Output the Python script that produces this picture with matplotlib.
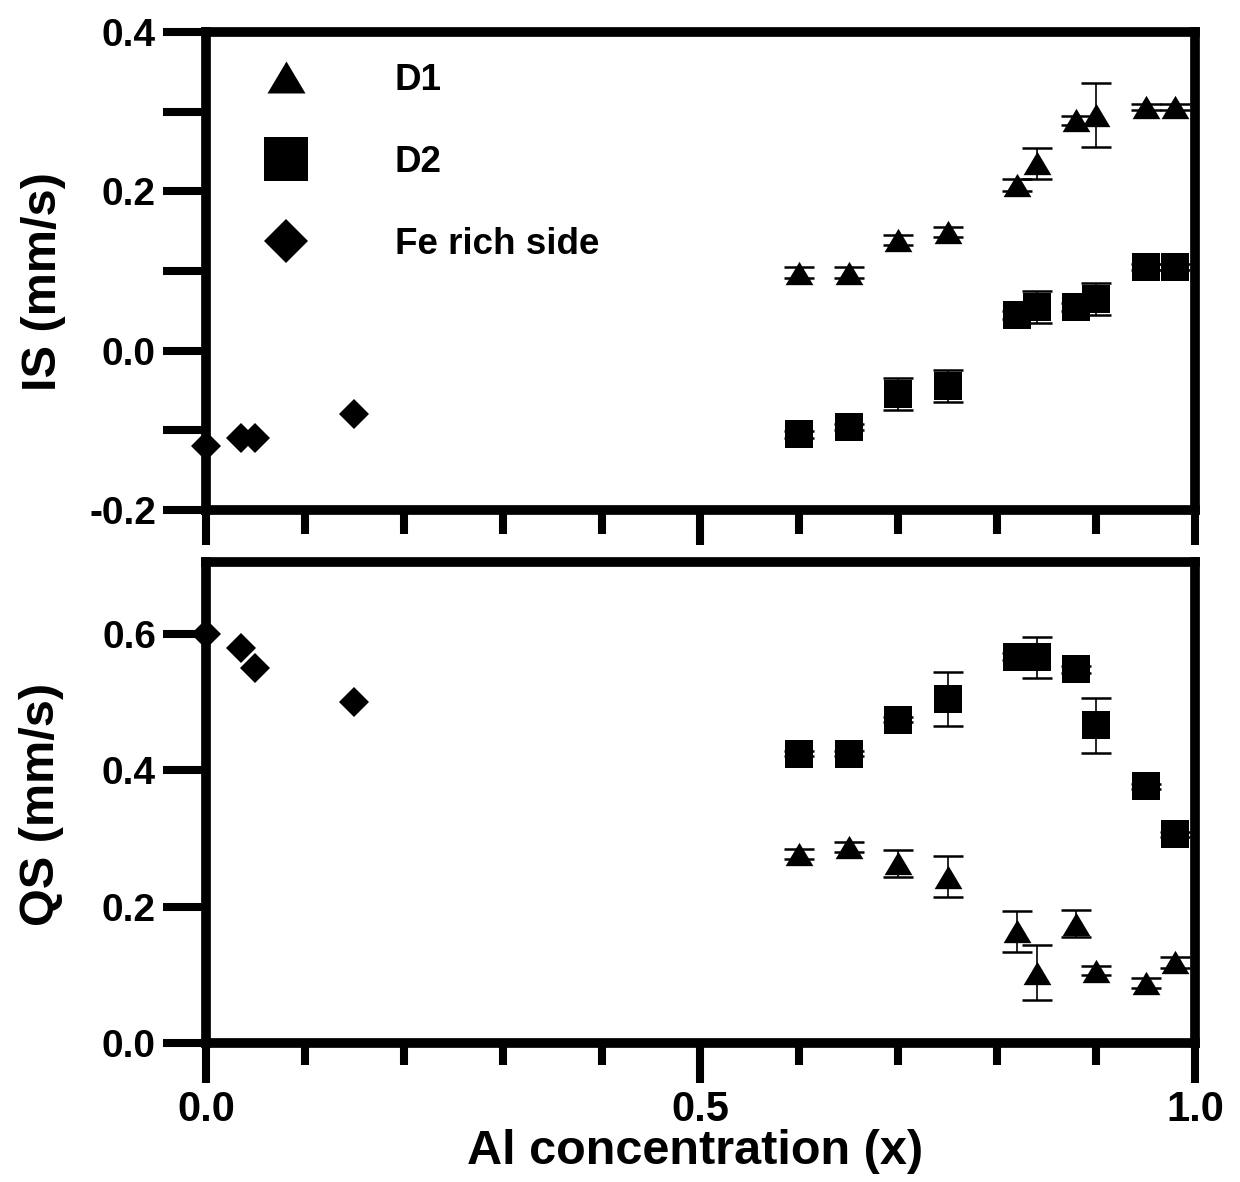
import matplotlib
matplotlib.use("Agg")
import matplotlib.pyplot as plt
from matplotlib import font_manager
from matplotlib.lines import Line2D
from matplotlib.ticker import MultipleLocator, FixedLocator, FormatStrFormatter

# ---------------- data ----------------
# Al concentration of the samples fitted with the two doublets
x_al = [0.60, 0.65, 0.70, 0.75, 0.82, 0.84, 0.88, 0.90, 0.95, 0.98]
# Fe-rich side samples
x_fe = [0.0, 0.035, 0.05, 0.15]

# isomer shift (mm/s)
is_d1 = [0.098, 0.098, 0.139, 0.149, 0.208, 0.235, 0.289, 0.2955, 0.306, 0.306]
is_d1_err = [0.007, 0.007, 0.006, 0.006, 0.007, 0.020, 0.006, 0.040, 0.004, 0.004]
is_d2 = [-0.105, -0.096, -0.0545, -0.0445, 0.045, 0.055, 0.055, 0.065, 0.105, 0.105]
is_d2_err = [0.004, 0.004, 0.020, 0.020, 0.005, 0.020, 0.005, 0.020, 0.004, 0.004]
is_fe = [-0.120, -0.110, -0.110, -0.079]

# quadrupole splitting (mm/s)
qs_d1 = [0.277, 0.287, 0.2635, 0.244, 0.164, 0.103, 0.175, 0.106, 0.088, 0.118]
qs_d1_err = [0.007, 0.007, 0.020, 0.030, 0.030, 0.040, 0.020, 0.007, 0.007, 0.008]
qs_d2 = [0.424, 0.424, 0.474, 0.5045, 0.566, 0.5655, 0.548, 0.4655, 0.376, 0.306]
qs_d2_err = [0.004, 0.004, 0.004, 0.040, 0.005, 0.030, 0.005, 0.040, 0.004, 0.004]
qs_fe = [0.600, 0.579, 0.549, 0.500]

labels = ["D1", "D2", "Fe rich side"]

# ---------------- style ----------------
names = {f.name for f in font_manager.fontManager.ttflist}
has_narrow = "Liberation Sans Narrow" in names
label_family = ["Liberation Sans Narrow", "Liberation Sans"] if has_narrow else ["Liberation Sans"]
label_size = 41 if has_narrow else 35

plt.rcParams["font.family"] = ["Liberation Sans", "DejaVu Sans"]
plt.rcParams["font.weight"] = "bold"
plt.rcParams["axes.unicode_minus"] = False

# flattened triangle marker
tri = [(-1.0, -0.84), (1.0, -0.84), (0.0, 0.84), (-1.0, -0.84)]

fig = plt.figure(figsize=(12.4, 11.82), dpi=100)
ax_is = fig.add_axes([0.1661, 0.5685, 0.7976, 0.4044])
ax_qs = fig.add_axes([0.1661, 0.1176, 0.7976, 0.4069])

err_kw = dict(fmt="none", ecolor="black", elinewidth=1.2, capsize=11, capthick=1.8, zorder=2)
mk_kw = dict(linestyle="none", color="black", markeredgewidth=0, zorder=3, clip_on=False)


def draw_panel(ax, d1, d1e, d2, d2e, fe):
    ax.errorbar(x_al, d1, yerr=d1e, **err_kw)
    ax.errorbar(x_al, d2, yerr=d2e, **err_kw)
    ax.plot(x_al, d1, marker=tri, markersize=20, **mk_kw)
    ax.plot(x_al, d2, marker="s", markersize=19.5, **mk_kw)
    ax.plot(x_fe, fe, marker="D", markersize=15.3, **mk_kw)
    for s in ax.spines.values():
        s.set_linewidth(7)
    ax.set_xlim(0.0, 1.0)
    ax.xaxis.set_major_locator(FixedLocator([0.0, 0.5, 1.0]))
    ax.xaxis.set_minor_locator(FixedLocator([0.1, 0.2, 0.3, 0.4, 0.6, 0.7, 0.8, 0.9]))
    ax.xaxis.set_major_formatter(FormatStrFormatter("%.1f"))
    ax.yaxis.set_major_formatter(FormatStrFormatter("%.1f"))
    ax.tick_params(axis="both", which="both", direction="out", width=5.8, pad=5)
    ax.tick_params(axis="y", labelsize=28)
    ax.tick_params(axis="x", labelsize=30)


# ---- isomer shift panel ----
draw_panel(ax_is, is_d1, is_d1_err, is_d2, is_d2_err, is_fe)
ax_is.set_ylim(-0.2, 0.4)
ax_is.yaxis.set_major_locator(MultipleLocator(0.2))
ax_is.yaxis.set_minor_locator(MultipleLocator(0.1))
ax_is.tick_params(axis="y", which="both", length=31)
ax_is.tick_params(axis="x", which="major", length=25, labelbottom=False)
ax_is.tick_params(axis="x", which="minor", length=17)
ax_is.set_ylabel("IS (mm/s)", family=label_family, fontsize=label_size, fontweight="bold")
ax_is.yaxis.set_label_coords(-0.142, 0.478)

handles = [
    Line2D([], [], linestyle="none", marker=tri, markersize=27.4, color="black", markeredgewidth=0),
    Line2D([], [], linestyle="none", marker="s", markersize=32, color="black", markeredgewidth=0),
    Line2D([], [], linestyle="none", marker="D", markersize=22.9, color="black", markeredgewidth=0),
]
ax_is.legend(handles, labels, loc="upper left", bbox_to_anchor=(0.051, 0.935),
             frameon=False, prop={"family": "Liberation Sans", "weight": "bold", "size": 26.5},
             handlelength=1.6, handletextpad=2.16, labelspacing=1.28,
             borderpad=0, borderaxespad=0)

# ---- quadrupole splitting panel ----
draw_panel(ax_qs, qs_d1, qs_d1_err, qs_d2, qs_d2_err, qs_fe)
ax_qs.set_ylim(0.0, 0.705)
ax_qs.yaxis.set_major_locator(FixedLocator([0.0, 0.2, 0.4, 0.6]))
ax_qs.tick_params(axis="y", which="major", length=31)
ax_qs.tick_params(axis="x", which="major", length=29, pad=5)
ax_qs.tick_params(axis="x", which="minor", length=16)
ax_qs.set_ylabel("QS (mm/s)", family=label_family, fontsize=label_size, fontweight="bold")
ax_qs.yaxis.set_label_coords(-0.144, 0.497)
ax_qs.set_xlabel("Al concentration (x)", family=label_family, fontsize=label_size, fontweight="bold")
ax_qs.xaxis.set_label_coords(0.495, -0.178)

fig.savefig("out.png", dpi=100)
